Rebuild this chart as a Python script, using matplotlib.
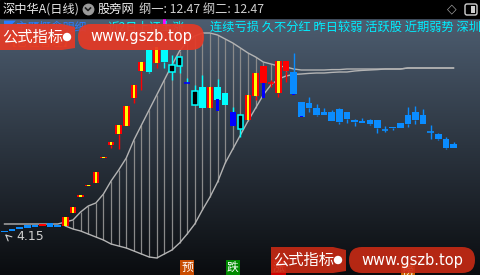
import matplotlib
matplotlib.use("Agg")
import matplotlib.pyplot as plt
import numpy as np
from matplotlib.patches import Rectangle, FancyBboxPatch, Polygon, Circle
from matplotlib.transforms import Affine2D

plt.rcParams['font.family'] = ['Noto Sans CJK SC', 'DejaVu Sans']

# daily bars: open, high, low, close and colour kind
# u = red/yellow up, r = red, c = cyan, h = hollow, b = blue, l = light blue
opens = [4.20, 4.30, 4.40, 4.50, 4.50, 4.45, 4.60, 4.50, 4.45, 5.10,
         5.90, 6.45, 6.60, 7.85, 8.50, 9.05, 9.45, 10.85, 12.20, 13.25,
         12.60, 13.25, 12.50, 12.90, 11.60, 11.20, 11.40, 10.35, 11.40, 11.10,
         10.15, 10.00, 9.75, 10.95, 11.60, 11.60, 11.10, 12.20, 12.15, 10.65,
         10.60, 10.35, 10.15, 10.15, 10.30, 10.15, 9.75, 9.70, 9.75, 9.75,
         9.27, 9.40, 9.60, 10.00, 10.15, 10.00, 9.17, 9.05, 8.80, 8.55]
closes = [4.15, 4.20, 4.30, 4.35, 4.40, 4.55, 4.40, 4.40, 4.90, 5.40,
          5.98, 6.52, 7.15, 7.92, 8.65, 9.50, 10.45, 11.50, 12.65, 12.15,
          13.40, 12.65, 12.15, 12.45, 11.60, 10.50, 10.35, 11.40, 10.75, 10.50,
          9.45, 9.30, 11.00, 12.10, 12.45, 11.60, 12.70, 12.70, 11.05, 9.90,
          10.35, 10.00, 10.00, 9.70, 9.65, 9.80, 9.65, 9.60, 9.55, 9.35,
          9.27, 9.35, 9.35, 9.55, 9.75, 9.55, 9.17, 8.80, 8.35, 8.35]
highs = [4.20, 4.30, 4.40, 4.50, 4.50, 4.55, 4.60, 4.50, 4.90, 5.40,
         5.98, 6.52, 7.15, 7.92, 8.65, 9.50, 10.45, 11.50, 12.65, 13.25,
         13.40, 13.25, 13.00, 12.90, 11.85, 11.50, 12.00, 11.40, 11.80, 11.10,
         10.40, 10.00, 11.00, 12.10, 12.45, 11.75, 12.70, 12.70, 13.10, 10.65,
         10.90, 10.55, 10.35, 10.25, 10.35, 10.15, 9.80, 9.85, 9.80, 9.75,
         9.45, 9.40, 9.60, 10.40, 10.45, 10.30, 9.50, 9.10, 8.90, 8.65]
lows = [4.15, 4.20, 4.30, 4.35, 4.40, 4.45, 4.40, 4.40, 4.45, 5.10,
        5.90, 6.45, 6.60, 7.85, 8.35, 8.30, 9.45, 10.60, 11.25, 12.10,
        12.35, 12.35, 11.75, 12.10, 11.60, 10.50, 10.35, 10.35, 10.75, 10.50,
        9.45, 8.90, 9.75, 10.75, 11.60, 11.40, 10.90, 11.65, 11.05, 9.90,
        10.15, 9.95, 10.00, 9.70, 9.55, 9.60, 9.45, 9.60, 9.50, 9.10,
        9.15, 9.25, 9.35, 9.40, 9.55, 9.55, 8.80, 8.75, 8.30, 8.35]
kinds = (['l'] * 5 + ['r', 'l', 'l'] + ['u'] * 11 +
         ['c', 'u', 'c', 'h', 'h', 'b', 'h', 'c', 'u', 'c', 'c', 'b', 'h',
          'u', 'u', 'r', 'r', 'u', 'r'] + ['l'] * 22)

# two band lines
upper = [4.55] * 8 + [4.65, 4.75, 5.15, 5.45, 5.60, 6.05, 6.70, 7.25, 7.85, 8.75,
         9.50, 10.25, 11.00, 11.75, 12.50, 13.20, 13.65, 13.95, 14.10, 14.10,
         14.00, 13.80, 13.60, 13.35, 13.10, 12.90, 12.65, 12.55, 12.45, 12.40,
         12.30, 12.25, 12.25, 12.25, 12.25, 12.27, 12.27, 12.30, 12.30, 12.30,
         12.30, 12.30, 12.30, 12.30, 12.30, 12.35, 12.35, 12.35, 12.35, 12.35,
         12.35, 12.35]
lower = [4.55] * 8 + [4.45, 4.30, 4.20, 4.05, 3.90, 3.75, 3.55, 3.45, 3.35, 3.20,
         3.05, 2.90, 2.85, 3.05, 3.25, 3.60, 4.05, 4.55, 5.25, 5.90,
         6.65, 7.60, 8.30, 9.00, 9.70, 10.35, 11.00, 11.50, 11.80, 11.95,
         12.03, 12.05, 12.08, 12.10, 12.10, 12.13, 12.15, 12.15, 12.20, 12.23,
         12.25, 12.27, 12.30, 12.30, 12.30, 12.35, 12.35, 12.35, 12.35, 12.35,
         12.35, 12.35]
hatch_from, hatch_to = 9, 38

# narrow blue bars under some candles
bar_idx = [28, 34, 38, 39]
bar_top = [10.80, 11.60, 11.05, 9.95]
bar_bot = [10.20, 10.85, 11.00, 9.90]

# signal boxes at the bottom
sig_idx = [24, 30, 36, 53]
sig_txt = ['预', '跌', '涨', '榜']
sig_col = ['#c84c00', '#008a00', '#cc0000', '#c86400']

low_label = '4.15'

RED, YEL, CYA, BLU, LBL = '#ff0000', '#ffff00', '#00ffff', '#0000ff', '#0a8cff'

fig = plt.figure(figsize=(4.8, 2.75), dpi=100)
ax = fig.add_axes([0, 0, 1, 1])
ax.set_axis_off()
px = Affine2D().scale(1 / 100, -1 / 100).translate(0, 2.75) + fig.dpi_scale_trans

# background gradient
g = np.linspace(0, 1, 256)[:, None]
top_c = np.array([0x4d, 0x5d, 0x70]) / 255
bot_c = np.array([0x0a, 0x0c, 0x0f]) / 255
grad = top_c * (1 - g[..., None]) + bot_c * g[..., None]
grad = grad.reshape(256, 1, 3)
ax.imshow(grad, extent=[0, 1, 0, 1 - 18 / 275], transform=ax.transAxes,
          aspect='auto', zorder=0)
ax.add_patch(Rectangle((0, 0), 480, 18, transform=px, color='black', zorder=5))

n = len(opens)
idx = np.arange(n)
ax.plot(idx, upper, color='#b4b4b4', lw=1, zorder=2)
ax.plot(idx[8:], lower[8:], color='#b4b4b4', lw=1, zorder=2)
hi = np.arange(hatch_from, hatch_to + 1)
ax.vlines(hi, np.array(lower)[hi], np.array(upper)[hi], color='#8a8a8a', lw=0.9, zorder=1)

W = 0.86
for i in range(n):
    o, h, l, c, k = opens[i], highs[i], lows[i], closes[i], kinds[i]
    top, bot = max(o, c), min(o, c)
    body_c = {'u': RED, 'r': RED, 'c': CYA, 'h': CYA, 'b': BLU, 'l': LBL}[k]
    wick_c = {'u': RED, 'r': RED, 'c': CYA, 'h': CYA, 'b': CYA, 'l': LBL}[k]
    if h > top:
        ax.vlines(i, top, h, color=wick_c, lw=1, zorder=3)
    if l < bot:
        ax.vlines(i, l, bot, color=wick_c, lw=1, zorder=3)
    if o == c:
        ax.hlines(o, i - W / 2, i + W / 2, color=body_c, lw=1.2, zorder=4)
        continue
    hgt = max(top - bot, 0.07)
    if k == 'h':
        ax.add_patch(Rectangle((i - W / 2 + 0.06, bot), W - 0.12, hgt, facecolor='black',
                               edgecolor=CYA, lw=1.1, zorder=4))
    else:
        ax.add_patch(Rectangle((i - W / 2, bot), W, hgt, facecolor=body_c, lw=0, zorder=4))
        if k == 'u':
            ax.add_patch(Rectangle((i - 0.17, bot), 0.34, hgt, facecolor=YEL, lw=0, zorder=4))

for i, t, b in zip(bar_idx, bar_top, bar_bot):
    ax.add_patch(Rectangle((i - 0.2, b), 0.4, t - b, facecolor=BLU, lw=0, zorder=4))

# magenta mark above the peak
ax.add_patch(Rectangle((21 - 0.2, 14.45), 0.4, 0.4, facecolor='#ff00ff', lw=0, zorder=4))

# lowest price label
ax.annotate('', xy=(-0.2, lows[0] - 0.02), xytext=(0.6, lows[0] - 0.3),
            arrowprops=dict(arrowstyle='->', color='#d0d0d0', lw=0.8), zorder=6)
ax.text(1.5, lows[0] - 0.2, low_label, color='#d0d0d0', fontsize=9,
        family='DejaVu Sans', va='center', ha='left', zorder=6)

# signals
xt = ax.get_xaxis_transform()
for i, t, col in zip(sig_idx, sig_txt, sig_col):
    yy = 0.012 if t == '榜' else 0.028
    ax.text(i, yy, t, transform=xt, color='white', fontsize=8.5, ha='center', va='center',
            zorder=6, bbox=dict(boxstyle='square,pad=0.1', facecolor=col, edgecolor='none'))

# header texts
ax.text(3, 9, '深中华A(日线)', transform=px, color='#e8e8e8', fontsize=8.8, va='center', zorder=6)
ax.plot([88 / 480], [1 - 9 / 275], 'o', transform=ax.transAxes, color='#9a9a9a', ms=7.5, zorder=6)
ax.plot(np.array([85.5, 88, 90.5]) / 480, 1 - np.array([8, 10.5, 8]) / 275,
        transform=ax.transAxes, color='#202020', lw=1.2, zorder=7)
ax.text(98, 9, '股旁网', transform=px, color='#f0f0f0', fontsize=8.8, va='center', zorder=6)
ax.text(139, 9, '纲一: 12.47 纲二: 12.47', transform=px, color='#d0d0d0', fontsize=8.8,
        va='center', zorder=6)
ax.text(452, 9, '◇', transform=px, color='#a0a0a0', fontsize=9, va='center', ha='center',
        family='DejaVu Sans', zorder=6)
ax.add_patch(FancyBboxPatch((465, 4), 12, 11, boxstyle='round,pad=0,rounding_size=2',
                            transform=px, facecolor='none', edgecolor='#d0d0d0', lw=1, zorder=6))
ax.add_patch(Rectangle((471, 6), 4, 7, transform=px, facecolor='#d0d0d0', lw=0, zorder=6))

ax.text(4, 27, '◤主题概念明细', transform=px, color='#2a7cff', fontsize=8.5, va='center', zorder=6)
ax.text(108, 27, '近2日上证上涨', transform=px, color=CYA, fontsize=8.5, va='center', zorder=6)
ax.text(4, 42, '【仓位管理】', transform=px, color='#ff8c00', fontsize=8.5, va='center', zorder=6)
ax.text(210, 27, '连续亏损 久不分红 昨日较弱 活跃股 近期弱势 深圳本地', transform=px,
        color='#00eeff', fontsize=8.8, va='center', zorder=6)


def watermark(x0, y0, col, alpha):
    ax.add_patch(Polygon([(x0, y0), (x0 + 62, y0), (x0 + 75, y0 + 3), (x0 + 75, y0 + 24),
                          (x0 + 62, y0 + 26), (x0, y0 + 26)], closed=True, transform=px,
                         facecolor=col, alpha=alpha, lw=0, zorder=8))
    ax.add_patch(Circle((x0 + 67, y0 + 13), 3.5, transform=px, color='white', zorder=9))
    ax.text(x0 + 2, y0 + 13, '公式指标', transform=px, color='white', fontsize=11,
            va='center', zorder=9)
    ax.add_patch(FancyBboxPatch((x0 + 78, y0), 126, 26, boxstyle='round,pad=0,rounding_size=13',
                                transform=px, facecolor=col, alpha=alpha, lw=0, zorder=8))
    ax.text(x0 + 141, y0 + 13, 'www.gszb.top', transform=px, color='white', fontsize=10.5,
            family='DejaVu Sans', ha='center', va='center', zorder=9)


watermark(0, 24, '#e53a26', 0.93)
watermark(271, 247, '#c82a14', 0.9)

ax.set_xlim(-0.591, 62.48)
ax.set_ylim(2.0, 15.75)
fig.savefig('out.png', dpi=100)
